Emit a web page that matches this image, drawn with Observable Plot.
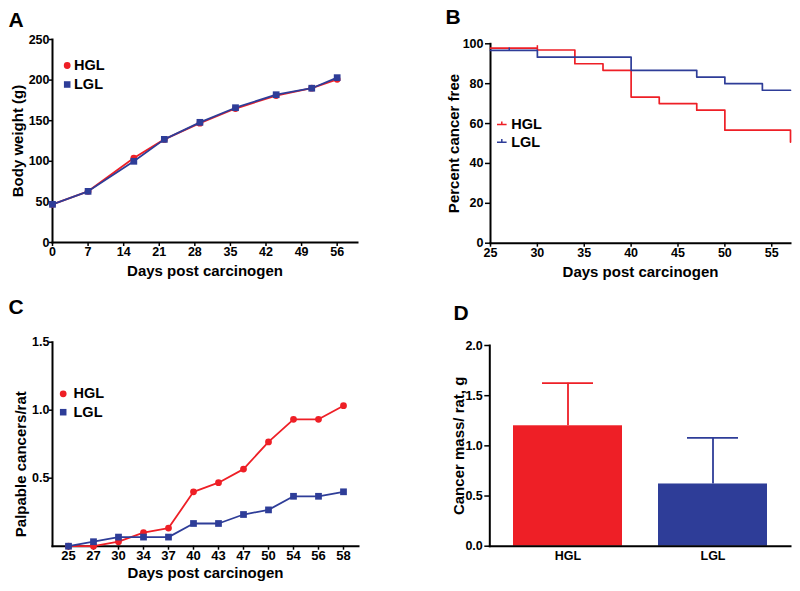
<!DOCTYPE html>
<html><head><meta charset="utf-8">
<script src="https://cdn.jsdelivr.net/npm/d3@7"></script>
<script src="https://cdn.jsdelivr.net/npm/@observablehq/plot@0.6"></script>
<style>
body{margin:0;background:#fff}
#wrap{position:relative;width:800px;height:591px;overflow:hidden;background:#fff}
.panel{position:absolute}
.panel svg{overflow:visible}
</style></head><body><div id="wrap"></div>
<script>
// ---- data ----
const seriesNames = ["HGL", "LGL"];
const seriesColors = ["#ee1f26", "#2e3d98"];

// A: body weight
const daysA = [0, 7, 16, 22, 29, 36, 44, 51, 56];
const weightHGL = [47, 63, 104, 127, 147, 165, 181, 190, 201];
const weightLGL = [47, 63, 100, 127, 148, 166, 182, 190, 203];
const ticksAx = [0, 7, 14, 21, 28, 35, 42, 49, 56];
const ticksAy = [0, 50, 100, 150, 200, 250];

// B: percent cancer free (Kaplan-Meier steps)
const survDaysHGL = [25, 30, 34, 37, 40, 43, 47, 50, 57];
const survHGL = [97.8, 96.9, 90, 86.7, 73.3, 70, 66.7, 56.7, 50.7];
const survDaysLGL = [25, 30, 40, 47, 50, 54, 57];
const survLGL = [96.7, 93.3, 86.7, 83.3, 80, 76.7, 76.7];
const censorDaysHGL = [30];
const censorHGL = [97.8];
const censorDaysLGL = [27];
const censorLGL = [96.7];
const ticksBx = [25, 30, 35, 40, 45, 50, 55];
const ticksBy = [0, 20, 40, 60, 80, 100];

// C: palpable cancers per rat
const daysC = [25, 27, 30, 34, 37, 40, 43, 47, 50, 54, 56, 58];
const palpHGL = [0, 0, 0.033, 0.1, 0.133, 0.4, 0.467, 0.567, 0.767, 0.933, 0.933, 1.033];
const palpLGL = [0, 0.033, 0.067, 0.067, 0.067, 0.167, 0.167, 0.233, 0.267, 0.367, 0.367, 0.4];
const ticksCy = [0.5, 1.0, 1.5];

// D: cancer mass per rat
const groupsD = ["HGL", "LGL"];
const massMean = [1.2, 0.62];
const massErr = [0.425, 0.46];
const ticksDy = [0, 0.5, 1.0, 1.5, 2.0];

// ---- tables ----
const tableA = seriesNames.flatMap((s, k) => daysA.map((d, i) => ({day: d, w: (k ? weightLGL : weightHGL)[i], s})));
const tableB = [
  ...survDaysHGL.map((d, i) => ({day: d, p: survHGL[i], s: "HGL"})),
  ...survDaysLGL.map((d, i) => ({day: d, p: survLGL[i], s: "LGL"}))
];
const censorB = [
  ...censorDaysHGL.map((d, i) => ({day: d, p: censorHGL[i], s: "HGL"})),
  ...censorDaysLGL.map((d, i) => ({day: d, p: censorLGL[i], s: "LGL"}))
];
const tableC = seriesNames.flatMap((s, k) => daysC.map((d, i) => ({day: d, v: (k ? palpLGL : palpHGL)[i], s})));
const tableD = groupsD.map((g, i) => ({g, m: massMean[i], e: massErr[i]}));

// ---- shared ----
const FONT = "'Liberation Sans', Arial, Helvetica, sans-serif";
const color = {domain: seriesNames, range: seriesColors};
const symbol = {domain: seriesNames, range: ["circle", "square"]};
const style = {fontFamily: FONT, fontWeight: "bold", fontSize: "12.5px", color: "#000", background: "transparent", overflow: "visible"};

const stepLegend = {draw(ctx, size) { const r = Math.sqrt(size / Math.PI); ctx.moveTo(-r, 0); ctx.lineTo(r, 0); ctx.moveTo(0, 0); ctx.lineTo(0, -r * 0.65); }};
const censorTick = {draw(ctx, size) { const r = Math.sqrt(size / Math.PI); ctx.moveTo(0, 0); ctx.lineTo(0, -r); }};

function axisLines() {
  return [Plot.frame({anchor: "left", strokeWidth: 2}), Plot.frame({anchor: "bottom", strokeWidth: 2})];
}
function letter(t, dx, dy) {
  return Plot.text([t], {frameAnchor: "top-left", dx, dy, text: d => d, lineAnchor: "bottom", textAnchor: "start", fontSize: 21});
}
function xTitle(t, dy) {
  return Plot.text([t], {frameAnchor: "bottom", dy, text: d => d, lineAnchor: "bottom", textAnchor: "middle", fontSize: 15});
}
function yTitle(t, dx, dy = 0) {
  return Plot.text([t], {frameAnchor: "left", dx, dy, rotate: -90, text: d => d, lineAnchor: "bottom", textAnchor: "middle", fontSize: 15});
}
function legendMarks(dx, dy, gap, textDx, sym) {
  return seriesNames.flatMap((s, i) => [
    sym
      ? Plot.dot([s], {frameAnchor: "top-left", dx, dy: dy + i * gap, symbol: sym, r: 4.8, fill: "none", stroke: d => d, strokeWidth: 1.5})
      : Plot.dot([s], {frameAnchor: "top-left", dx, dy: dy + i * gap, symbol: d => d, r: i ? 3.7 : 3.4, fill: d => d}),
    Plot.text([s], {frameAnchor: "top-left", dx: textDx, dy: dy + i * gap, text: d => d, textAnchor: "start", lineAnchor: "middle", fontSize: 14.5})
  ]);
}
function addPanel(left, top, svg) {
  const div = document.createElement("div");
  div.className = "panel";
  div.style.left = left + "px";
  div.style.top = top + "px";
  div.appendChild(svg);
  document.getElementById("wrap").appendChild(div);
}

// ---- Panel A ----
addPanel(0, 0, Plot.plot({
  width: 400, height: 290,
  marginLeft: 52, marginRight: 43, marginTop: 39, marginBottom: 48,
  style,
  x: {domain: [0, 60]},
  y: {domain: [0, 250]},
  color, symbol,
  marks: [
    Plot.axisX({ticks: ticksAx, tickSize: 4, tickPadding: 1, strokeWidth: 1.5, label: null}),
    Plot.axisY({ticks: ticksAy, tickSize: 3, tickPadding: 0, strokeWidth: 1.5, label: null}),
    ...axisLines(),
    ...seriesNames.flatMap(s => [
      Plot.line(tableA.filter(d => d.s === s), {x: "day", y: "w", stroke: "s", strokeWidth: 1.8}),
      Plot.dot(tableA.filter(d => d.s === s), {x: "day", y: "w", fill: "s", symbol: "s", r: s === "HGL" ? 3.4 : 3.8})
    ]),
    ...legendMarks(14.7, 26, 19, 21.5),
    xTitle("Days post carcinogen", 33),
    yTitle("Body weight (g)", -29.5),
    letter("A", -44, -13)
  ]
}));

// ---- Panel B ----
addPanel(400, 0, Plot.plot({
  width: 400, height: 290,
  marginLeft: 90, marginRight: 10, marginTop: 43.3, marginBottom: 47.3,
  style,
  x: {domain: [25, 57]},
  y: {domain: [0, 100]},
  color,
  marks: [
    Plot.axisX({ticks: ticksBx, tickSize: 4, tickPadding: 1, strokeWidth: 1.5, label: null}),
    Plot.axisY({ticks: ticksBy, tickSize: 5, tickPadding: 2, strokeWidth: 1.5, label: null}),
    ...axisLines(),
    ...seriesNames.map(s => Plot.line(tableB.filter(d => d.s === s), {x: "day", y: "p", stroke: "s", curve: "step-after", strokeWidth: 1.7})),
    Plot.dot(censorB, {x: "day", y: "p", stroke: "s", fill: "none", symbol: censorTick, r: 3, strokeWidth: 1.5}),
    ...legendMarks(11.3, 80.7, 17.7, 20.7, stepLegend),
    xTitle("Days post carcinogen", 34),
    yTitle("Percent cancer free", -31.7),
    letter("B", -45, -20)
  ]
}));

// ---- Panel C ----
addPanel(0, 290, Plot.plot({
  width: 400, height: 301,
  marginLeft: 52, marginRight: 42, marginTop: 51.7, marginBottom: 45.3,
  style,
  x: {type: "point", domain: daysC, padding: 0.45},
  y: {domain: [0, 1.5]},
  color, symbol,
  marks: [
    Plot.axisX({tickSize: 4, tickPadding: 1, strokeWidth: 1.5, label: null, fontSize: 13}),
    Plot.axisY({ticks: ticksCy, tickSize: 3, tickPadding: 0, strokeWidth: 1.5, tickFormat: d3.format(".1f"), label: null}),
    ...axisLines(),
    ...seriesNames.flatMap(s => [
      Plot.line(tableC.filter(d => d.s === s), {x: "day", y: "v", stroke: "s", strokeWidth: 1.8}),
      Plot.dot(tableC.filter(d => d.s === s), {x: "day", y: "v", fill: "s", symbol: "s", r: s === "HGL" ? 3.4 : 3.8})
    ]),
    ...legendMarks(10.7, 51.6, 18.4, 21),
    xTitle("Days post carcinogen", 31.6),
    yTitle("Palpable cancers/rat", -27, 20),
    letter("C", -44, -28.7)
  ]
}));

// ---- Panel D ----
addPanel(400, 290, Plot.plot({
  width: 400, height: 301,
  marginLeft: 89.3, marginRight: 10, marginTop: 55, marginBottom: 45.3,
  style,
  x: {type: "band", domain: groupsD, paddingInner: 0.25, paddingOuter: 0.16},
  y: {domain: [0, 2]},
  color: {domain: groupsD, range: seriesColors},
  marks: [
    Plot.axisX({tickSize: 0, tickPadding: 5, label: null}),
    Plot.axisY({ticks: ticksDy, tickSize: 5, tickPadding: 2, strokeWidth: 1.5, tickFormat: d3.format(".1f"), label: null}),
    Plot.barY(tableD, {x: "g", y: "m", fill: "g"}),
    Plot.ruleX(tableD, {x: "g", y1: "m", y2: d => d.m + d.e, stroke: "g", strokeWidth: 1.8}),
    Plot.tickY(tableD, {x: "g", y: d => d.m + d.e, stroke: "g", strokeWidth: 1.8, insetLeft: 29, insetRight: 29}),
    ...axisLines(),
    yTitle("Cancer mass/ rat, g", -26),
    letter("D", -36.3, -26)
  ]
}));
</script>
</body></html>
